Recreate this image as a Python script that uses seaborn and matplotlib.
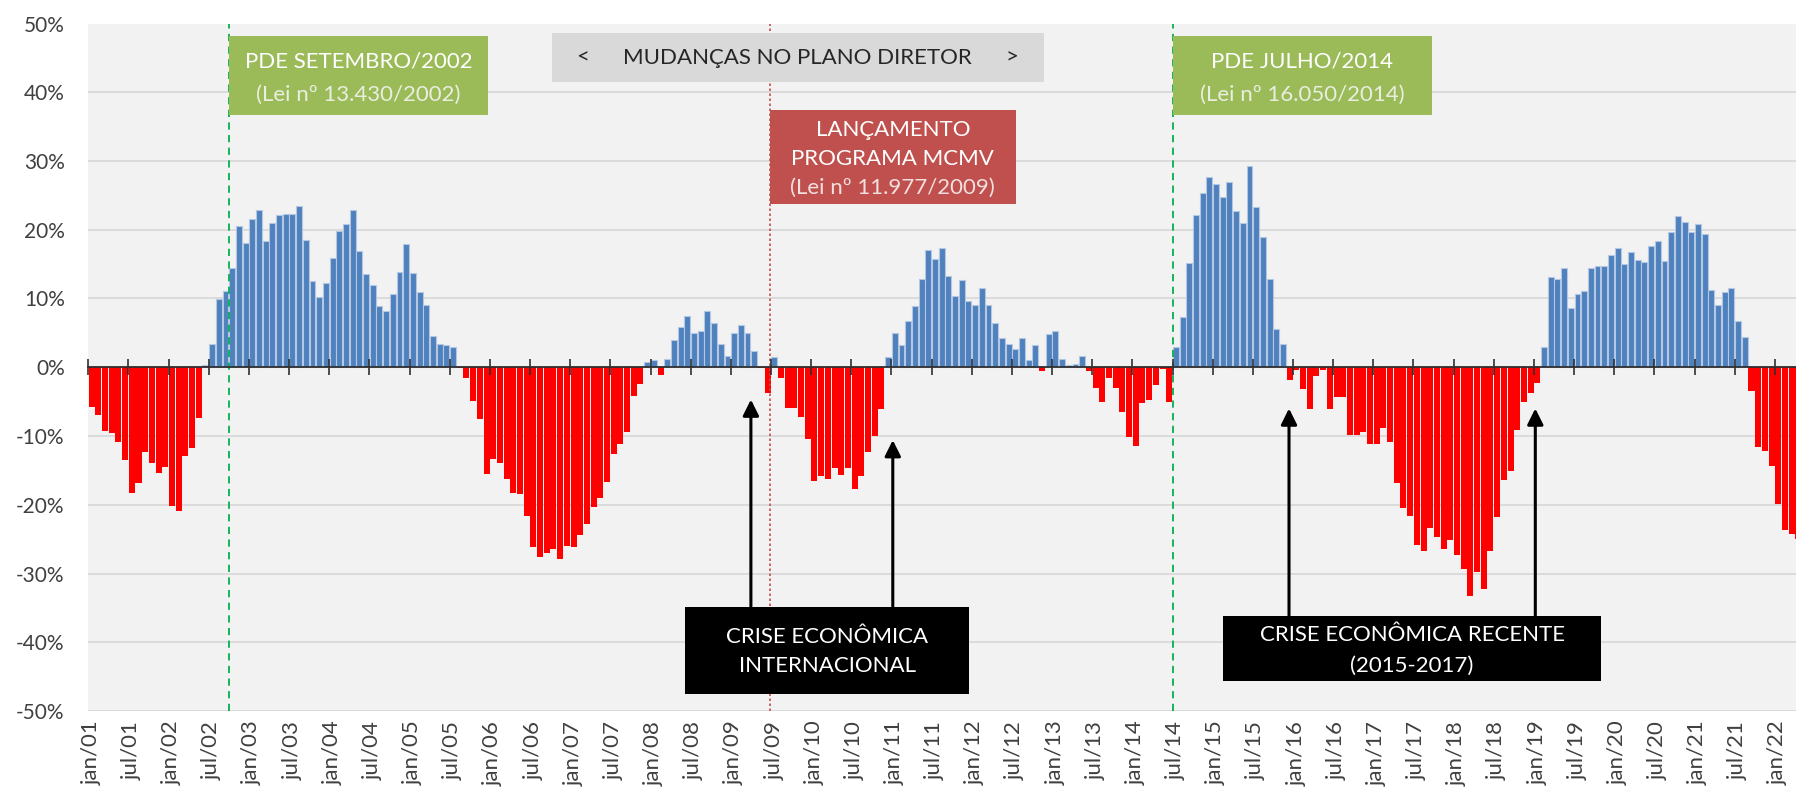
import numpy as np
import pandas as pd
import matplotlib
matplotlib.use('Agg')
import matplotlib.pyplot as plt
import seaborn as sns
from matplotlib.patches import Rectangle

sns.set_theme(style="white")
plt.rcParams['font.family'] = ['Lato', 'DejaVu Sans']

# variação anual (%) - mensal, jan/01 a abr/22
var_2001_2004 = [-5.8, -7.0, -9.3, -9.6, -10.9, -13.5, -18.3, -16.8, -12.4, -13.9, -15.4, -14.5,
                 -20.2, -20.9, -12.9, -11.7, -7.4, 0.3, 3.4, 9.9, 11.1, 14.4, 20.5, 18.0,
                 21.6, 22.9, 18.3, 21.0, 22.1, 22.3, 22.3, 23.5, 18.5, 12.5, 10.2, 12.2,
                 15.9, 19.8, 20.9, 22.9, 16.9, 13.5, 11.9, 8.9, 8.2, 10.7, 13.9, 17.9]
var_2005_2008 = [13.7, 10.9, 9.1, 4.5, 3.4, 3.3, 2.9, -0.1, -1.6, -4.9, -7.6, -15.5,
                 -13.4, -14.0, -16.3, -18.3, -18.5, -21.6, -26.2, -27.6, -27.0, -26.5, -27.9, -26.0,
                 -26.2, -24.4, -22.8, -20.3, -19.0, -16.7, -12.6, -11.1, -9.4, -4.2, -2.4, 0.7,
                 1.1, -1.1, 1.2, 4.0, 5.8, 7.4, 5.0, 5.3, 8.2, 6.4, 3.4, 1.6]
var_2009_2012 = [5.0, 6.1, 5.0, 2.3, -0.1, -3.7, 1.5, -1.6, -5.9, -5.9, -7.2, -10.4,
                 -16.6, -15.8, -16.3, -14.7, -15.7, -14.7, -17.7, -15.8, -12.3, -10.0, -6.1, 1.5,
                 5.0, 3.2, 6.7, 8.9, 12.8, 17.1, 15.8, 17.3, 13.3, 10.4, 12.7, 9.6,
                 9.1, 11.5, 9.0, 6.4, 4.3, 3.4, 2.6, 4.2, 1.0, 3.3, -0.5, 4.9]
var_2013_2016 = [5.3, 1.2, 0.3, 0.4, 1.6, -0.5, -3.0, -5.0, -1.6, -3.0, -6.5, -10.2,
                 -11.4, -5.2, -4.8, -2.6, -0.2, -5.0, 2.9, 7.3, 15.1, 22.1, 25.4, 27.7,
                 26.7, 24.7, 26.9, 22.7, 21.0, 29.2, 23.3, 18.9, 12.9, 5.6, 3.4, -1.8,
                 -0.4, -3.2, -6.1, -1.3, -0.4, -6.1, -4.4, -4.4, -9.9, -9.8, -9.4, -11.2]
var_2017_2020 = [-11.2, -8.8, -10.9, -16.8, -20.5, -21.7, -25.9, -26.7, -23.4, -24.7, -26.5, -25.1,
                 -27.3, -29.4, -33.3, -29.8, -32.3, -26.7, -21.8, -16.4, -15.1, -9.1, -5.0, -3.7,
                 -2.3, 2.9, 13.1, 12.8, 14.5, 8.6, 10.6, 11.1, 14.5, 14.7, 14.7, 16.3,
                 17.3, 15.0, 16.8, 15.6, 15.3, 17.7, 18.3, 15.5, 19.6, 22.0, 21.1, 19.7]
var_2021_2022 = [20.8, 19.4, 11.2, 9.1, 10.9, 11.5, 6.7, 4.4, -3.4, -11.6, -12.2, -14.4,
                 -19.9, -23.6, -24.3, -25.0]

valores = var_2001_2004 + var_2005_2008 + var_2009_2012 + var_2013_2016 + var_2017_2020 + var_2021_2022

anos = [f"{a:02d}" for a in range(1, 23)]
rotulos_x = [f"{m}/{a}" for a in anos for m in ("jan", "jul")][:-1]
rotulos_y = ["-50%", "-40%", "-30%", "-20%", "-10%", "0%", "10%", "20%", "30%", "40%", "50%"]
ticks_y = [-50, -40, -30, -20, -10, 0, 10, 20, 30, 40, 50]

df = pd.DataFrame({'pos': np.arange(len(valores)), 'valor': valores})

AZUL = '#4f81bd'
VERMELHO = '#ff0000'

fig = plt.figure(figsize=(17.96, 7.94), dpi=100)
fig.patch.set_facecolor('white')
ax = fig.add_axes([88.3 / 1796, 1 - 711 / 794, (1796 - 88.3) / 1796, (711 - 23.5) / 794])
ax.set_facecolor('#f2f2f2')

sns.barplot(data=df[df.valor >= 0], x='pos', y='valor', native_scale=True, color=AZUL,
            saturation=1, edgecolor='#b4c8e4', linewidth=0.8, width=0.88, errorbar=None, ax=ax)
sns.barplot(data=df[df.valor < 0], x='pos', y='valor', native_scale=True, color=VERMELHO,
            saturation=1, linewidth=0, width=0.9, errorbar=None, ax=ax)

ax.set_xlim(-0.5, 254.65)
ax.set_ylim(-50, 50)
ax.set_xlabel('')
ax.set_ylabel('')
for s in ax.spines.values():
    s.set_visible(False)

ax.set_axisbelow(True)
ax.yaxis.grid(True, color='#d9d9d9', lw=1.3)
ax.xaxis.grid(False)
ax.set_yticks(ticks_y)
ax.set_yticklabels(rotulos_y)
ax.tick_params(axis='y', length=0, pad=17, labelsize=15, labelcolor='#404040')
ax.set_xticks(np.arange(0, len(valores), 6))
ax.set_xticklabels(rotulos_x, rotation=90, va='top', ha='center')
ax.tick_params(axis='x', length=0, pad=7, labelsize=16, labelcolor='#404040')

# eixo no zero com marcas semestrais
sec = ax.secondary_xaxis(0.5)
sec.set_xticks(np.arange(0, len(valores), 6) - 0.5)
sec.set_xticklabels([])
sec.tick_params(direction='inout', length=12, width=1.2, color='#303030')
for s in sec.spines.values():
    s.set_color('#303030')
    s.set_linewidth(1.3)
sec.set_zorder(5)

# linhas verticais de eventos
ax.axvline(20.5, color='#00b050', ls=(0, (4, 3)), lw=1.3, zorder=2)
ax.axvline(161.5, color='#00b050', ls=(0, (4, 3)), lw=1.3, zorder=2)
ax.axvline(101.35, color='#c0504d', ls=(0, (1.5, 1.5)), lw=1.2, zorder=2)

def caixa(x0, x1, y0, y1, cor):
    ax.add_patch(Rectangle((x0, y0), x1 - x0, y1 - y0, facecolor=cor, edgecolor='none', zorder=6))

# PDE 2002
caixa(20.5, 59.2, 36.7, 48.2, '#9bbb59')
ax.text(39.85, 44.4, 'PDE SETEMBRO/2002', ha='center', va='center', color='white', fontsize=16, zorder=7)
ax.text(39.85, 39.6, '(Lei nº 13.430/2002)', ha='center', va='center', color='#e9eedf', fontsize=16, zorder=7)

# mudanças no plano diretor
caixa(68.8, 142.3, 41.5, 48.6, '#d9d9d9')
ax.text(105.5, 45.0, 'MUDANÇAS NO PLANO DIRETOR', ha='center', va='center', color='#262626', fontsize=16, zorder=7)
ax.text(73.4, 45.0, '<', ha='center', va='center', color='#262626', fontsize=16, zorder=7)
ax.text(137.5, 45.0, '>', ha='center', va='center', color='#262626', fontsize=16, zorder=7)

# MCMV
caixa(101.35, 138.1, 23.7, 37.4, '#c0504d')
ax.text(119.7, 34.5, 'LANÇAMENTO', ha='center', va='center', color='white', fontsize=16, zorder=7)
ax.text(119.7, 30.3, 'PROGRAMA MCMV', ha='center', va='center', color='white', fontsize=16, zorder=7)
ax.text(119.7, 26.1, '(Lei nº 11.977/2009)', ha='center', va='center', color='#f2e0df', fontsize=16, zorder=7)

# PDE 2014
caixa(161.5, 200.2, 36.7, 48.2, '#9bbb59')
ax.text(180.85, 44.4, 'PDE JULHO/2014', ha='center', va='center', color='white', fontsize=16, zorder=7)
ax.text(180.85, 39.6, '(Lei nº 16.050/2014)', ha='center', va='center', color='#e9eedf', fontsize=16, zorder=7)

# crises
caixa(88.7, 131.1, -47.5, -34.8, 'black')
ax.text(109.9, -39.3, 'CRISE ECONÔMICA', ha='center', va='center', color='white', fontsize=16, zorder=7)
ax.text(109.9, -43.5, 'INTERNACIONAL', ha='center', va='center', color='white', fontsize=16, zorder=7)
caixa(169.1, 225.5, -45.7, -36.2, 'black')
ax.text(197.3, -39.0, 'CRISE ECONÔMICA RECENTE', ha='center', va='center', color='white', fontsize=16, zorder=7)
ax.text(197.3, -43.5, '(2015-2017)', ha='center', va='center', color='white', fontsize=16, zorder=7)

setas = [(98.5, -34.8, -4.7), (119.7, -34.8, -10.6), (178.9, -36.2, -6.0), (215.7, -36.2, -6.0)]
for xs, ybase, ytip in setas:
    ax.annotate('', xy=(xs, ytip), xytext=(xs, ybase),
                arrowprops=dict(arrowstyle='-|>', color='black', lw=2.2, mutation_scale=24,
                                shrinkA=0, shrinkB=0), zorder=5)

fig.savefig('out.png', dpi=100)
